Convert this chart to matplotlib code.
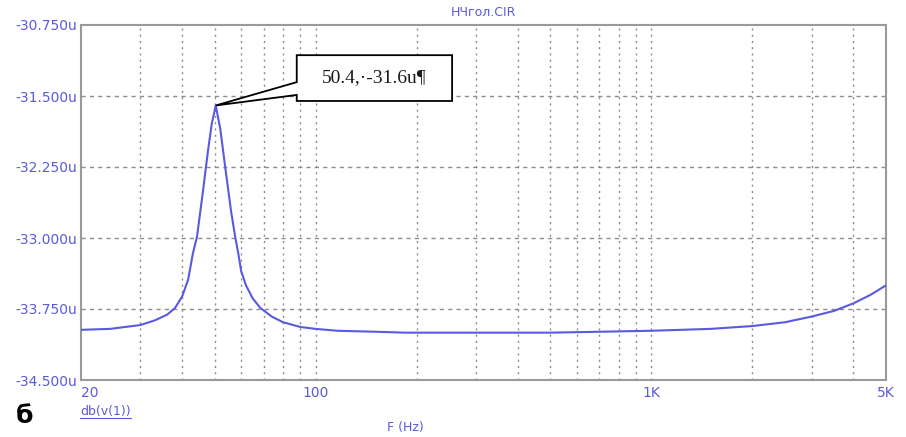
import matplotlib.pyplot as plt
from matplotlib.patches import Polygon
from matplotlib.ticker import FixedLocator, NullFormatter

# frequency response around the resonance (Hz, dB in micro units)
freq = [20, 24.4, 30, 33.2, 36.1, 38.1, 40, 41.7, 43.1, 44.3, 46.0, 47.7, 49.0,
        50.4, 52.0, 54.0, 56.0, 57.6, 58.8, 60.0, 62.0, 65.0, 68.5, 74.0, 80.0,
        90.0, 100, 116, 150, 185, 300, 500, 707, 1000, 1500, 2000, 2500, 3000,
        3500, 4000, 4500, 5000]
db_v1 = [-33.97, -33.96, -33.92, -33.87, -33.81, -33.74, -33.62, -33.44, -33.16,
         -32.99, -32.55, -32.10, -31.80, -31.60, -31.85, -32.30, -32.72, -32.99,
         -33.16, -33.35, -33.50, -33.64, -33.74, -33.83, -33.89, -33.94, -33.96,
         -33.98, -33.99, -34.00, -34.00, -34.00, -33.99, -33.98, -33.96, -33.93,
         -33.89, -33.83, -33.77, -33.69, -33.60, -33.50]

peak_f, peak_db = 50.4, -31.6

y_ticks = [-34.5, -33.75, -33.0, -32.25, -31.5, -30.75]
x_ticks = [20, 100, 1000, 5000]
x_ticklabels = ['20', '100', '1K', '5K']
x_grid = [30, 40, 50, 60, 70, 80, 90, 100, 200, 300, 400, 500, 600, 700, 800,
          900, 1000, 2000, 3000, 4000]

blue = '#5a5ae0'
grid_col = '#8c8c8c'

plt.rcParams['font.family'] = ['DejaVu Sans']

fig = plt.figure(figsize=(9.06, 4.37), dpi=100)
ax = fig.add_axes([81 / 906, 1 - 380 / 437, 805 / 906, 355 / 437])

ax.set_xscale('log')
ax.set_xlim(20, 5000)
ax.set_ylim(-34.5, -30.75)

# grid: dotted verticals, dashed horizontals
for g in x_grid:
    ax.axvline(g, color=grid_col, lw=1.0, ls=(0, (1.5, 3)), zorder=1)
for t in y_ticks[1:-1]:
    ax.axhline(t, color=grid_col, lw=1.0, ls=(0, (3, 3)), zorder=1)

ax.plot(freq, db_v1, color=blue, lw=1.5, zorder=3)

ax.xaxis.set_major_locator(FixedLocator(x_ticks))
ax.xaxis.set_minor_locator(FixedLocator([]))
ax.xaxis.set_minor_formatter(NullFormatter())
ax.set_xticklabels(x_ticklabels)
ax.set_yticks(y_ticks)
ax.set_yticklabels([f'{t:.3f}u' for t in y_ticks])
ax.tick_params(length=0, colors=blue, labelsize=10)
ax.tick_params(axis='x', pad=4)
ax.tick_params(axis='y', pad=3)
ax.get_xticklabels()[0].set_horizontalalignment('left')

for s in ax.spines.values():
    s.set_color('#9a9a9a')
    s.set_linewidth(1.5)

# callout box pointing at the peak
fig.canvas.draw()
tip = ax.transAxes.inverted().transform(ax.transData.transform((peak_f, peak_db)))
bx0, bx1, by0, by1 = 0.268, 0.461, 0.786, 0.915
callout = [(bx0, by1), (bx1, by1), (bx1, by0), (bx0, by0), (bx0, 0.803),
           tuple(tip), (bx0, 0.839)]
ax.add_patch(Polygon(callout, closed=True, transform=ax.transAxes,
                     facecolor='white', edgecolor='black', lw=1.3, zorder=5,
                     clip_on=False))
ax.text((bx0 + bx1) / 2, (by0 + by1) / 2, '50.4,·-31.6u¶', transform=ax.transAxes,
        ha='center', va='center', fontsize=14, family='Liberation Serif',
        color='#1a1a1a', zorder=6)

fig.text(483 / 906, 1 - 13 / 437, 'НЧгол.CIR', color=blue, fontsize=9,
         ha='center', va='center')
lbl = fig.text(80 / 906, 1 - 412 / 437, 'db(v(1))', color=blue, fontsize=9,
               ha='left', va='center')
fig.canvas.draw()
bb = lbl.get_window_extent().transformed(fig.transFigure.inverted())
fig.add_artist(plt.Line2D([bb.x0, bb.x1], [bb.y0 + 0.001, bb.y0 + 0.001],
                          color=blue, lw=0.8, transform=fig.transFigure))
fig.text(405 / 906, 1 - 428 / 437, 'F (Hz)', color=blue, fontsize=9,
         ha='center', va='center')
fig.text(25 / 906, 1 - 416 / 437, 'б', color='black', fontsize=18,
         fontweight='bold', ha='center', va='center')

fig.savefig('out.png', dpi=100)
